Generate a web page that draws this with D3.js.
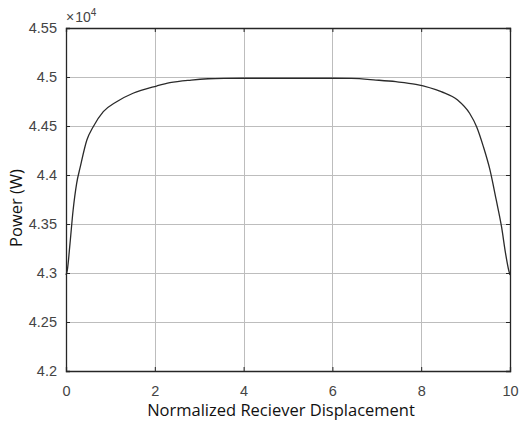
<!DOCTYPE html>
<html>
<head>
<meta charset="utf-8">
<script src="https://cdn.jsdelivr.net/npm/d3@7"></script>
<style>
  body { margin: 0; background: #fff; }
  svg { display: block; }
</style>
</head>
<body>
<svg width="523" height="423"></svg>
<script>
// data (x = normalized displacement, y = power in 1e4 W)
var xVals = [0, 0.03, 0.09, 0.16, 0.24, 0.32, 0.47, 0.61, 0.84, 1.14, 1.51, 2.04, 2.34, 2.82, 3.2, 3.56, 4.0, 5.0, 6.0, 6.43, 6.98, 7.43, 7.88, 8.45, 8.82, 9.09, 9.25, 9.4, 9.55, 9.69, 9.81, 9.9, 9.97, 10];
var yVals = [4.298, 4.303, 4.330, 4.364, 4.3915, 4.408, 4.4357, 4.449, 4.4646, 4.4748, 4.4834, 4.4908, 4.4942, 4.4969, 4.4982, 4.4986, 4.4987, 4.4987, 4.4987, 4.4985, 4.4969, 4.4952, 4.4925, 4.485, 4.4765, 4.463, 4.449, 4.429, 4.405, 4.3745, 4.347, 4.320, 4.303, 4.298];
var xTicks = [0, 2, 4, 6, 8, 10];
var yTicks = [4.2, 4.25, 4.3, 4.35, 4.4, 4.45, 4.5, 4.55];
var yTickLabels = ["4.2", "4.25", "4.3", "4.35", "4.4", "4.45", "4.5", "4.55"];

var svg = d3.select("svg"),
    margin = {left: 66, top: 28, right: 13, bottom: 52},
    width = 523 - margin.left - margin.right,
    height = 423 - margin.top - margin.bottom;

var x = d3.scaleLinear().domain([0, 10]).range([0, width]);
var y = d3.scaleLinear().domain([4.2, 4.55]).range([height, 0]);

var g = svg.append("g")
    .attr("transform", "translate(" + margin.left + "," + margin.top + ")");

// grid
g.selectAll(".vgrid")
    .data(xTicks.slice(1, -1))
    .join("line")
    .attr("x1", d => Math.round(x(d)) + 0.5).attr("x2", d => Math.round(x(d)) + 0.5)
    .attr("y1", 0).attr("y2", height)
    .attr("stroke", "#bdbdbd").attr("stroke-width", 1);
g.selectAll(".hgrid")
    .data(yTicks.slice(1, -1))
    .join("line")
    .attr("y1", d => Math.round(y(d)) + 0.5).attr("y2", d => Math.round(y(d)) + 0.5)
    .attr("x1", 0).attr("x2", width)
    .attr("stroke", "#bdbdbd").attr("stroke-width", 1);

// curve
var line = d3.line()
    .x((d, i) => x(xVals[i]))
    .y((d, i) => y(yVals[i]))
    .curve(d3.curveMonotoneX);
g.append("path")
    .datum(yVals)
    .attr("d", line)
    .attr("fill", "none")
    .attr("stroke", "#2a2a2a")
    .attr("stroke-width", 1.3);

// axes (inward ticks, box)
var xAxis = d3.axisBottom(x).tickValues(xTicks).tickSize(-4).tickPadding(15);
var yAxis = d3.axisLeft(y).tickValues(yTicks).tickSize(-4).tickPadding(9)
    .tickFormat((d, i) => yTickLabels[i]);

g.append("g").attr("transform", "translate(0," + height + ")").call(xAxis);
g.append("g").call(yAxis);
g.append("g").call(d3.axisTop(x).tickValues(xTicks).tickSize(-4).tickFormat(""));
g.append("g").attr("transform", "translate(" + width + ",0)")
    .call(d3.axisRight(y).tickValues(yTicks).tickSize(-4).tickFormat(""));

g.selectAll(".domain").attr("stroke", "#262626").attr("stroke-width", 1.3);
g.selectAll(".tick line").attr("stroke", "#262626");
g.selectAll(".tick text")
    .attr("fill", "#444")
    .style("font-family", "'Liberation Sans', Arial, sans-serif")
    .style("font-size", "14.5px");

// exponent label
var expo = g.append("text")
    .attr("x", 0).attr("y", -6)
    .attr("fill", "#444")
    .style("font-family", "'Liberation Sans', Arial, sans-serif")
    .style("font-size", "14px");
expo.append("tspan").text("\u00d7");
expo.append("tspan").text("10").attr("dx", 1);
expo.append("tspan").text("4").attr("dy", -6).style("font-size", "10px");

// axis labels
svg.append("text")
    .attr("x", 281).attr("y", 416)
    .attr("text-anchor", "middle")
    .attr("fill", "#111")
    .style("font-family", "'Open Sans', sans-serif")
    .style("font-size", "16.5px")
    .text("Normalized Reciever Displacement");

svg.append("text")
    .attr("transform", "translate(22,208) rotate(-90)")
    .attr("text-anchor", "middle")
    .attr("fill", "#111")
    .style("font-family", "'Open Sans', sans-serif")
    .style("font-size", "16.5px")
    .text("Power (W)");
</script>
</body>
</html>
